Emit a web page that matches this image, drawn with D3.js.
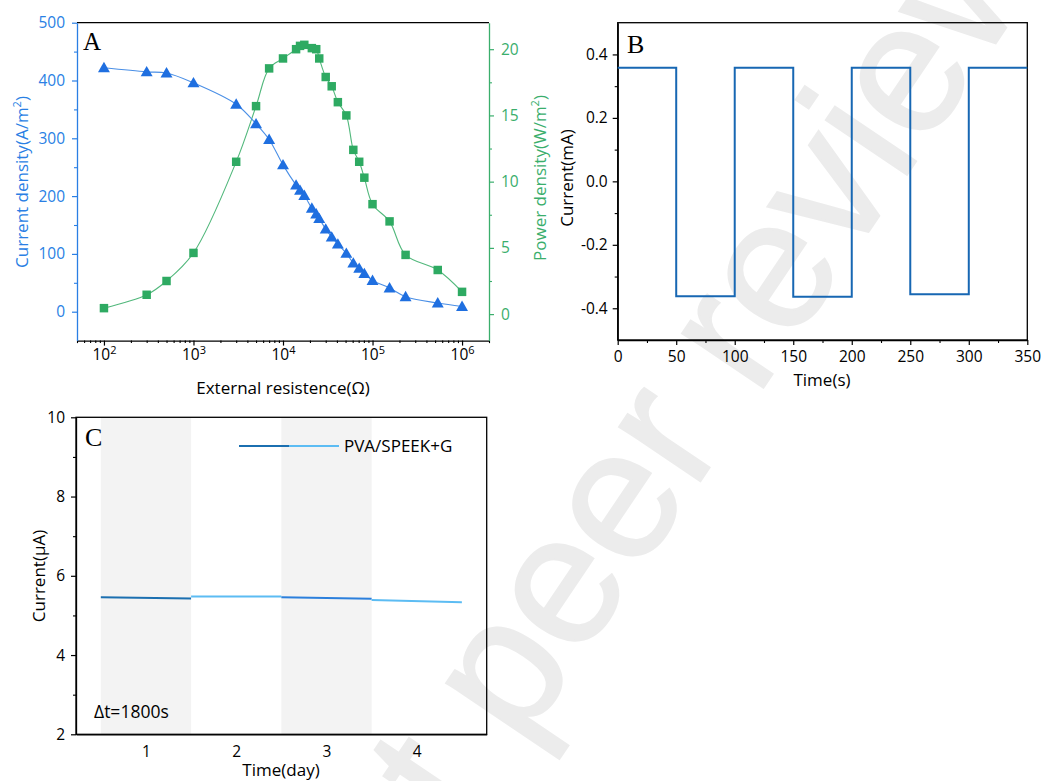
<!DOCTYPE html>
<html>
<head>
<meta charset="utf-8">
<script src="https://cdn.jsdelivr.net/npm/d3@7"></script>
<style>
  body { margin: 0; background: #fff; }
  svg { display: block; }
  text { font-family: 'Open Sans', sans-serif; }
</style>
</head>
<body>
<svg id="fig" width="1043" height="781"></svg>
<script>
// ---- panel A: external resistance sweep
const resistance = [100, 300, 500, 1000, 3000, 5000, 7000, 10000, 14000, 15500, 17300, 21000, 23500, 25400,
  30000, 35000, 41000, 51000, 61000, 71000, 81000, 100000, 155000, 234000, 535000, 1000000];
const currentDensity = [422, 415, 413, 396, 359, 325, 298, 254, 219, 210, 201, 179, 169, 161,
  143, 129, 117, 101, 84, 75, 66, 54, 41, 26, 15, 9];
const powerDensity = [0.45, 1.46, 2.5, 4.62, 11.5, 15.7, 18.55, 19.3, 20.0, 20.25, 20.33, 20.08, 20.0, 19.3,
  17.9, 17.2, 16.0, 15.0, 12.4, 11.5, 10.3, 8.3, 7.0, 4.47, 3.33, 1.68];
const decadeTicks = [1e2, 1e3, 1e4, 1e5, 1e6];
const currentTicks = [0, 100, 200, 300, 400, 500];
const powerTicks = [0, 5, 10, 15, 20];

// ---- panel B: switching current
const switchTimes = [0, 50, 100, 150, 200, 250, 300];
const switchLevels = [0.358, -0.362, 0.358, -0.364, 0.358, -0.356, 0.358];
const timeEnd = 350;
const timeTicks = [0, 50, 100, 150, 200, 250, 300, 350];
const mATicks = [-0.4, -0.2, 0, 0.2, 0.4];

// ---- panel C: daily stability
const dayStart = [0.5, 1.5, 2.5, 3.5];
const dayEnd = [1.5, 2.5, 3.5, 4.5];
const startCurrent = [5.46, 5.48, 5.46, 5.39];
const endCurrent = [5.43, 5.48, 5.42, 5.33];
const dayColors = ['#1b6fb0', '#5cbcf3', '#2b7fdc', '#5cbcf3'];
const shadedDays = [0.5, 2.5];
const dayTicks = [1, 2, 3, 4];
const uATicks = [2, 4, 6, 8, 10];

const blue = '#2a7fe4', green = '#3aae6c';
const svg = d3.select('#fig');

// watermark behind everything
svg.append('text')
  .attr('transform', 'translate(567,593) rotate(-56)')
  .attr('x', -1162).attr('y', 48)
  .style('font-family', "'Liberation Sans', Arial, sans-serif")
  .attr('font-size', 185)
  .attr('fill', '#ececec')
  .attr('stroke', '#ececec').attr('stroke-width', 2)
  .text('Preprint not peer reviewed');

function styleAxis(g, color, size) {
  g.select('.domain').attr('stroke', color).attr('stroke-width', 1.3);
  g.selectAll('.tick line').attr('stroke', color).attr('stroke-width', 1.2);
  g.selectAll('.tick text').attr('fill', color).attr('font-size', size || 15.5).attr('font-family', "'Open Sans', sans-serif");
}

function minor(g, axis, color) {
  g.call(axis.tickSizeOuter(0).tickFormat(''));
  g.select('.domain').remove();
  g.selectAll('.tick line').attr('stroke', color).attr('stroke-width', 1.1);
}

function yTitle(x, y, color, parts) {
  const t = svg.append('text')
    .attr('transform', `translate(${x},${y}) rotate(-90)`)
    .attr('text-anchor', 'middle')
    .attr('font-size', 17)
    .attr('fill', color);
  parts.forEach(p => {
    if (p.sup) t.append('tspan').attr('dy', -7).attr('font-size', 11).text(p.sup);
    else t.append('tspan').attr('dy', p.down ? 7 : 0).text(p.txt);
  });
}

// ===== Panel A =====
const xA = d3.scaleLog().domain([50, 2e6]).range([77, 489]);
const yA = d3.scaleLinear().domain([-50, 500]).range([340.6, 22.7]);
const yA2 = d3.scaleLinear().domain([-2, 22]).range([340.6, 22.7]);

svg.append('line').attr('x1', 77).attr('x2', 489).attr('y1', 22.7).attr('y2', 22.7)
  .attr('stroke', '#000').attr('stroke-width', 1.3);

const minorLog = xA.ticks().filter(d => !decadeTicks.includes(d));
minor(svg.append('g').attr('transform', 'translate(0,340.6)'),
  d3.axisBottom(xA).tickValues(minorLog).tickSize(2.5), '#000');
const gxA = svg.append('g').attr('transform', 'translate(0,340.6)')
  .call(d3.axisBottom(xA).tickValues(decadeTicks).tickSize(5).tickSizeOuter(0).tickPadding(3));
styleAxis(gxA, '#000');
gxA.selectAll('.tick text').text(null).call(t => {
  t.append('tspan').text('10');
  t.append('tspan').attr('dy', -6).attr('font-size', 11).text(d => Math.round(Math.log10(d)));
});

minor(svg.append('g').attr('transform', 'translate(77,0)'),
  d3.axisLeft(yA).tickValues([50, 150, 250, 350, 450]).tickSize(3), blue);
const gyA = svg.append('g').attr('transform', 'translate(77,0)')
  .call(d3.axisLeft(yA).tickValues(currentTicks).tickSize(5).tickSizeOuter(0).tickPadding(7));
styleAxis(gyA, blue);

minor(svg.append('g').attr('transform', 'translate(489,0)'),
  d3.axisRight(yA2).tickValues([2.5, 7.5, 12.5, 17.5]).tickSize(3), green);
const gyA2 = svg.append('g').attr('transform', 'translate(489,0)')
  .call(d3.axisRight(yA2).tickValues(powerTicks).tickSize(5).tickSizeOuter(0).tickPadding(7));
styleAxis(gyA2, green);

const ptsA = resistance.map((r, i) => ({ r, j: currentDensity[i], p: powerDensity[i] }));

svg.append('path').datum(ptsA)
  .attr('fill', 'none').attr('stroke', '#52b87c').attr('stroke-width', 1.1)
  .attr('d', d3.line().x(d => xA(d.r)).y(d => yA2(d.p)).curve(d3.curveCatmullRom.alpha(0.5)));
svg.append('path').datum(ptsA)
  .attr('fill', 'none').attr('stroke', '#4a8fe6').attr('stroke-width', 1.1)
  .attr('d', d3.line().x(d => xA(d.r)).y(d => yA(d.j)).curve(d3.curveCatmullRom.alpha(0.5)));

svg.append('g').selectAll('path').data(ptsA).join('path')
  .attr('transform', d => `translate(${xA(d.r)},${yA2(d.p)})`)
  .attr('d', d3.symbol(d3.symbolSquare, 72))
  .attr('fill', '#2eaa62');
svg.append('g').selectAll('path').data(ptsA).join('path')
  .attr('transform', d => `translate(${xA(d.r)},${yA(d.j) + 1})`)
  .attr('d', d3.symbol(d3.symbolTriangle, 62))
  .attr('fill', '#1f6fe0');

svg.append('text').attr('x', 83).attr('y', 50)
  .style('font-family', "'Liberation Serif', 'Times New Roman', serif")
  .attr('font-size', 25).text('A');

yTitle(28, 182, blue, [{ txt: 'Current density(A/m' }, { sup: '2' }, { txt: ')', down: true }]);
yTitle(546, 178, green, [{ txt: 'Power density(W/m' }, { sup: '2' }, { txt: ')', down: true }]);

svg.append('text').attr('x', 283).attr('y', 394).attr('text-anchor', 'middle')
  .attr('font-size', 17).text('External resistence(Ω)');

// ===== Panel B =====
const xB = d3.scaleLinear().domain([0, timeEnd]).range([617.7, 1027.3]);
const yB = d3.scaleLinear().domain([-0.5, 0.5]).range([340, 22.7]);

svg.append('rect').attr('x', 617.7).attr('y', 22.7).attr('width', 1027.3 - 617.7).attr('height', 340 - 22.7)
  .attr('fill', 'none').attr('stroke', '#000').attr('stroke-width', 1.3);

minor(svg.append('g').attr('transform', 'translate(0,340)'),
  d3.axisBottom(xB).tickValues([25, 75, 125, 175, 225, 275, 325]).tickSize(3), '#000');
const gxB = svg.append('g').attr('transform', 'translate(0,340)')
  .call(d3.axisBottom(xB).tickValues(timeTicks).tickSize(5).tickSizeOuter(0).tickPadding(6));
styleAxis(gxB, '#000');

minor(svg.append('g').attr('transform', 'translate(617.7,0)'),
  d3.axisLeft(yB).tickValues([-0.3, -0.1, 0.1, 0.3]).tickSize(3), '#000');
const gyB = svg.append('g').attr('transform', 'translate(617.7,0)')
  .call(d3.axisLeft(yB).tickValues(mATicks).tickSize(5).tickSizeOuter(0).tickPadding(5)
    .tickFormat(d => d.toFixed(1)));
styleAxis(gyB, '#000');

const ptsB = switchTimes.map((t, i) => ({ t, v: switchLevels[i] }));
ptsB.push({ t: timeEnd, v: switchLevels[switchLevels.length - 1] });
svg.append('path').datum(ptsB)
  .attr('fill', 'none').attr('stroke', '#1767b3').attr('stroke-width', 2)
  .attr('d', d3.line().x(d => xB(d.t)).y(d => yB(d.v)).curve(d3.curveStepAfter));

svg.append('text').attr('x', 627).attr('y', 53)
  .style('font-family', "'Liberation Serif', 'Times New Roman', serif")
  .attr('font-size', 26).text('B');

yTitle(573, 178, '#000', [{ txt: 'Current(mA)' }]);
svg.append('text').attr('x', 822).attr('y', 386).attr('text-anchor', 'middle')
  .attr('font-size', 17).text('Time(s)');

// ===== Panel C =====
const xC = d3.scaleLinear().domain([0.225, 4.775]).range([76, 486.7]);
const yC = d3.scaleLinear().domain([2, 10]).range([734.3, 417.3]);

svg.append('g').selectAll('rect').data(shadedDays).join('rect')
  .attr('x', d => xC(d)).attr('width', d => xC(d + 1) - xC(d))
  .attr('y', 417.3).attr('height', 734.3 - 417.3)
  .attr('fill', '#f3f3f3');

svg.append('rect').attr('x', 76).attr('y', 417.3).attr('width', 486.7 - 76).attr('height', 734.3 - 417.3)
  .attr('fill', 'none').attr('stroke', '#000').attr('stroke-width', 1.3);

const gxC = svg.append('g').attr('transform', 'translate(0,734.3)')
  .call(d3.axisBottom(xC).tickValues(dayTicks).tickSize(0).tickSizeOuter(0).tickPadding(12)
    .tickFormat(d3.format('d')));
styleAxis(gxC, '#000');

minor(svg.append('g').attr('transform', 'translate(76,0)'),
  d3.axisLeft(yC).tickValues([3, 5, 7, 9]).tickSize(3), '#000');
const gyC = svg.append('g').attr('transform', 'translate(76,0)')
  .call(d3.axisLeft(yC).tickValues(uATicks).tickSize(5).tickSizeOuter(0).tickPadding(6));
styleAxis(gyC, '#000');

svg.append('g').selectAll('line').data(dayStart).join('line')
  .attr('x1', d => xC(d)).attr('x2', (d, i) => xC(dayEnd[i]))
  .attr('y1', (d, i) => yC(startCurrent[i])).attr('y2', (d, i) => yC(endCurrent[i]))
  .attr('stroke', (d, i) => dayColors[i]).attr('stroke-width', 2);

// legend
svg.append('line').attr('x1', 239).attr('x2', 289).attr('y1', 446).attr('y2', 446)
  .attr('stroke', dayColors[0]).attr('stroke-width', 2);
svg.append('line').attr('x1', 289).attr('x2', 339).attr('y1', 446).attr('y2', 446)
  .attr('stroke', dayColors[1]).attr('stroke-width', 2);
svg.append('text').attr('x', 344).attr('y', 452).attr('font-size', 17).text('PVA/SPEEK+G');

svg.append('text').attr('x', 85).attr('y', 446)
  .style('font-family', "'Liberation Serif', 'Times New Roman', serif")
  .attr('font-size', 26).text('C');

svg.append('text').attr('x', 94).attr('y', 718).attr('font-size', 17.5).text('Δt=1800s');

yTitle(45, 576, '#000', [{ txt: 'Current(μA)' }]);
svg.append('text').attr('x', 281).attr('y', 776).attr('text-anchor', 'middle')
  .attr('font-size', 17).text('Time(day)');
</script>
</body>
</html>
